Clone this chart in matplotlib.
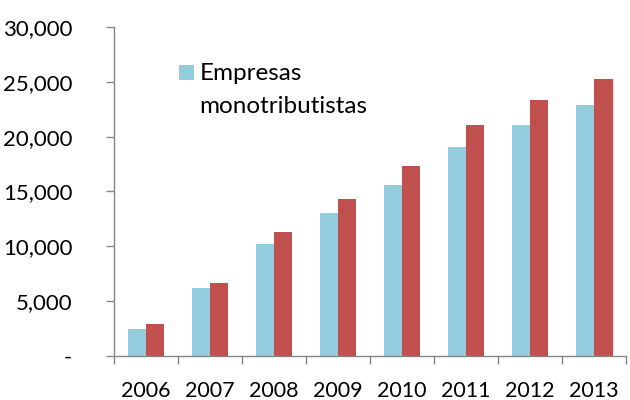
import numpy as np
import matplotlib
matplotlib.use('Agg')
from matplotlib import pyplot as plt
from matplotlib.patches import Rectangle
from matplotlib.ticker import FuncFormatter

years = ['2006', '2007', '2008', '2009', '2010', '2011', '2012', '2013']
monotributistas = [2500, 6200, 10200, 13000, 15600, 19100, 21100, 22900]
otras = [2900, 6700, 11300, 14300, 17300, 21100, 23300, 25300]

blue = '#93CDDD'
red = '#C0504D'
axis_grey = '#868686'

plt.rcParams['font.family'] = ['Lato', 'DejaVu Sans']

fig = plt.figure(figsize=(6.3, 4), dpi=100)
ax = fig.add_axes([0.181, 0.11, 0.813, 0.8225])

x = np.arange(len(years))
w = 0.286
ax.bar(x - w / 2, monotributistas, width=w, color=blue)
ax.bar(x + w / 2, otras, width=w, color=red)

ax.set_xlim(-0.5, len(years) - 0.5)
ax.set_ylim(0, 30000)
ax.set_yticks(range(0, 30001, 5000))
ax.yaxis.set_major_formatter(FuncFormatter(lambda v, p: '-' if v == 0 else f'{int(v):,}'))

# category labels centred, tick marks on the boundaries
ax.set_xticks(x)
ax.set_xticklabels(years)
ax.set_xticks(np.arange(-0.5, len(years)), minor=True)
ax.tick_params(axis='x', which='major', length=0, pad=18, labelsize=15.5)
ax.tick_params(axis='x', which='minor', length=6, width=1, color=axis_grey)
ax.tick_params(axis='y', length=6, width=1, color=axis_grey, pad=24, labelsize=16)

for s in ['top', 'right']:
    ax.spines[s].set_visible(False)
for s in ['left', 'bottom']:
    ax.spines[s].set_color(axis_grey)
    ax.spines[s].set_linewidth(1)

# legend: only the first series is named
fig.patches.append(Rectangle((0.284, 0.80), 0.0238, 0.0375, transform=fig.transFigure,
                             facecolor=blue, edgecolor='none'))
fig.text(0.317, 0.80, 'Empresas', fontsize=17.5, va='baseline', ha='left')
fig.text(0.317, 0.7175, 'monotributistas', fontsize=17.5, va='baseline', ha='left')

fig.savefig('out.png', dpi=100)
